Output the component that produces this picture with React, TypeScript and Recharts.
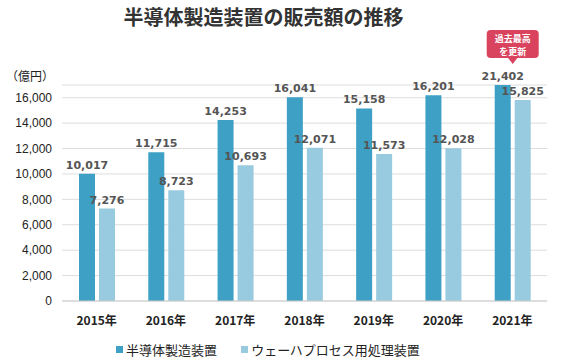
import { BarChart, Bar, XAxis, YAxis, CartesianGrid, Legend, LabelList } from "recharts";

// Data (unit: 億円)
const years = ["2015年", "2016年", "2017年", "2018年", "2019年", "2020年", "2021年"];
const equipment = [10017, 11715, 14253, 16041, 15158, 16201, 21402];
const wafer = [7276, 8723, 10693, 12071, 11573, 12028, 15825];
const yTicks = [0, 2000, 4000, 6000, 8000, 10000, 12000, 14000, 16000];
const recordYear = "2021年";
const recordNote = ["過去最高", "を更新"];

const SERIES_1 = "半導体製造装置";
const SERIES_2 = "ウェーハプロセス用処理装置";
const DARK = "#3ea0c4";
const LIGHT = "#98cbe0";
const PLOT_TOP = 85;
const BAR_GAP = 4;
const JP_FONT = "'Noto Sans CJK JP', 'Noto Sans', sans-serif";

const data = years.map((year, i) => ({ year, [SERIES_1]: equipment[i], [SERIES_2]: wafer[i] }));

const fmt = (v: number) => v.toLocaleString("en-US");

const ValueLabel = ({ x, y, width, value, index, withNote }: any) => {
  const top = Math.max(y, PLOT_TOP);
  const cx = x + width / 2;
  const showNote = withNote && years[index] === recordYear;
  const nx = x + width + BAR_GAP / 2;
  return (
    <g>
      <text
        x={cx}
        y={top - 5}
        textAnchor="middle"
        fill="#555"
        fontSize={11}
        fontWeight="bold"
        fontFamily="'DejaVu Sans', sans-serif"
      >
        {fmt(value)}
      </text>
      {showNote && (
        <g>
          <rect x={nx - 26} y={top - 55} width={52} height={28} rx={4} fill="#d9435e" />
          <path d={`M${nx - 5},${top - 27.5} L${nx + 5},${top - 27.5} L${nx},${top - 21} Z`} fill="#d9435e" />
          {recordNote.map((line, i) => (
            <text
              key={line}
              x={nx}
              y={top - 43 + i * 12.5}
              textAnchor="middle"
              fill="#fff"
              fontSize={9}
              fontWeight="bold"
              fontFamily={JP_FONT}
            >
              {line}
            </text>
          ))}
        </g>
      )}
    </g>
  );
};

const LegendContent = () => (
  <div
    style={{
      display: "flex",
      justifyContent: "center",
      alignItems: "center",
      paddingRight: 11,
      fontFamily: JP_FONT,
      fontSize: 13,
      color: "#222",
      height: 30,
    }}
  >
    {[
      { name: SERIES_1, color: DARK },
      { name: SERIES_2, color: LIGHT },
    ].map((item, i) => (
      <div key={item.name} style={{ display: "flex", alignItems: "center", marginLeft: i ? 24 : 0 }}>
        <span style={{ width: 7, height: 7, background: item.color, marginRight: 3, display: "inline-block" }} />
        {item.name}
      </div>
    ))}
  </div>
);

export default function App() {
  return (
    <div style={{ position: "absolute", left: 0, top: 0, width: 563, height: 364, background: "#fff" }}>
      <div
        style={{
          position: "absolute",
          left: 0,
          width: 527,
          top: 4,
          textAlign: "center",
          fontFamily: JP_FONT,
          fontWeight: "bold",
          fontSize: 20,
          color: "#333",
          lineHeight: "26px",
        }}
      >
        半導体製造装置の販売額の推移
      </div>
      <div
        style={{
          position: "absolute",
          left: 6,
          top: 68,
          fontFamily: JP_FONT,
          fontSize: 12,
          color: "#222",
          lineHeight: "16px",
        }}
      >
        （億円）
      </div>
      <BarChart
        width={563}
        height={364}
        data={data}
        margin={{ top: PLOT_TOP, right: 16, bottom: 0, left: 0 }}
        barSize={16}
        barGap={BAR_GAP}
      >
        <CartesianGrid vertical={false} stroke="#dddddd" />
        <XAxis
          dataKey="year"
          height={33}
          tickLine={false}
          axisLine={{ stroke: "#cccccc" }}
          tickMargin={9}
          tick={{ fontSize: 12, fontWeight: "bold", fill: "#222", fontFamily: JP_FONT }}
        />
        <YAxis
          width={62}
          domain={[0, 17000]}
          ticks={yTicks}
          allowDataOverflow
          interval={0}
          tickLine={false}
          axisLine={false}
          tickMargin={4}
          tickFormatter={fmt}
          tick={{ fontSize: 12, fill: "#222", fontFamily: "'Liberation Sans', Arial, sans-serif" }}
        />
        <Legend verticalAlign="bottom" height={30} content={<LegendContent />} />
        <Bar dataKey={SERIES_1} fill={DARK} isAnimationActive={false}>
          <LabelList dataKey={SERIES_1} content={(p: any) => <ValueLabel {...p} withNote />} />
        </Bar>
        <Bar dataKey={SERIES_2} fill={LIGHT} isAnimationActive={false}>
          <LabelList dataKey={SERIES_2} content={(p: any) => <ValueLabel {...p} />} />
        </Bar>
      </BarChart>
    </div>
  );
}
